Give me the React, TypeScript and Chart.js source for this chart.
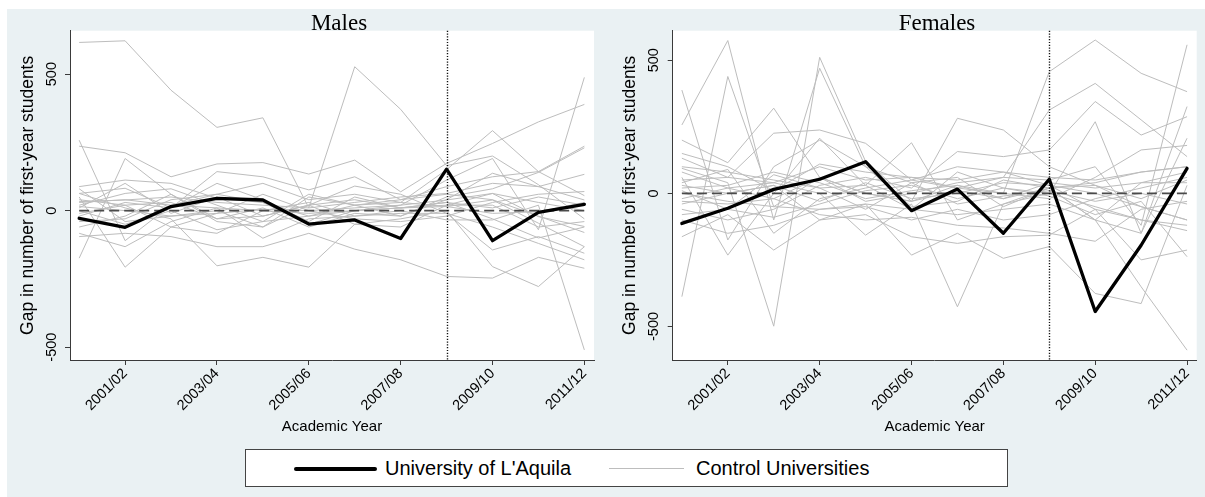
import React, { useEffect, useRef } from 'react';
import { Chart, registerables } from 'chart.js';

Chart.register(...registerables);

const SANS = "'Liberation Sans', Arial, Helvetica, sans-serif";
const SERIF = "'Liberation Serif', 'Times New Roman', serif";
Chart.defaults.font.family = SANS;

// ---------- data ----------
const yearLabels = ['2000/01', '2001/02', '2002/03', '2003/04', '2004/05', '2005/06', '2006/07', '2007/08', '2008/09', '2009/10', '2010/11', '2011/12'];
const xTickIndices = [1, 3, 5, 7, 9, 11];
const yTickValues = [-500, 0, 500];
const eventYear = '2008/09';
const zeroLevel = 0;

const maleLAquila = [-28, -61, 15, 45, 39, -49, -34, -102, 152, -110, -6, 23];
const maleCtrl01 = [616, 622, 441, 305, 340, 10, 527, 371, 165, 200, 95, -30];
const maleCtrl02 = [258, -110, 20, 60, 100, 40, 60, 30, 150, 293, 143, 236];
const maleCtrl03 = [236, 212, 124, 171, 176, 134, 185, 69, 173, 246, 325, 389];
const maleCtrl04 = [-174, 191, 60, -40, -60, 50, 20, -20, 40, 137, 88, 133];
const maleCtrl05 = [88, 112, 100, 45, 30, -20, 0, 20, 112, 191, -70, 488];
const maleCtrl06 = [63, 82, 10, 143, 124, 76, 124, 40, 88, 124, 143, 55];
const maleCtrl07 = [33, 39, 50, 30, 20, 10, 30, 50, 63, 100, 88, 39];
const maleCtrl08 = [15, 0, -20, -10, 5, 0, 10, 20, 39, 63, -22, -58];
const maleCtrl09 = [-10, 20, 30, -30, -20, 20, 40, 10, 15, 39, -46, -132];
const maleCtrl10 = [-83, -132, -40, 10, -101, -30, -20, -10, -10, -144, -95, -156];
const maleCtrl11 = [-95, -83, -95, -132, -132, -83, -141, -180, -241, -247, -171, -211];
const maleCtrl12 = [63, 10, -30, -202, -171, -207, -50, -30, 0, -205, -278, -132];
const maleCtrl13 = [50, -207, -60, -83, 0, 30, -20, 0, -34, -34, 20, -510];
const maleCtrl14 = [20, 63, 80, 20, -40, 60, 20, 30, 15, -10, -4, 30];
const maleCtrl15 = [-40, -30, 40, 60, 30, -50, 0, 10, 20, 63, 30, 0];
const maleCtrl16 = [40, 20, -60, -10, 60, 0, -30, -40, -20, 30, 60, 70];
const maleCtrl17 = [0, -50, 0, -70, -40, -20, 20, 40, 60, 40, -20, -80];
const maleCtrl18 = [-20, 30, 10, 100, 40, -40, 50, 10, 30, 10, 50, 20];
const maleCtrl19 = [80, -40, -20, 0, -60, 20, 90, 60, -10, -60, -120, -180];
const maleCtrl20 = [-60, -20, 60, -30, 10, -60, -10, -20, 50, 80, 140, 230];
const maleCtrl21 = [10, 100, -10, 50, -20, 20, -50, -60, 20, 20, -60, -40];
const maleCtrl22 = [30, 40, 20, 10, 0, -10, 0, 10, 30, -30, -100, -60];

const femaleLAquila = [-113, -56, 15, 53, 119, -65, 16, -150, 53, -444, -195, 94];
const femCtrl01 = [388, -175, 100, 200, 100, 40, 60, -50, 20, 40, 80, 100];
const femCtrl02 = [-388, 439, -50, 60, 0, -30, 30, 0, 457, 576, 451, 382];
const femCtrl03 = [257, 574, -100, 470, 100, -50, -30, 50, 20, -100, 40, 80];
const femCtrl04 = [200, 115, 320, 60, 0, -30, 282, 238, 100, 30, -50, -100];
const femCtrl05 = [132, 60, 226, 238, 188, 50, 20, 60, 313, 413, 276, 138];
const femCtrl06 = [94, 40, -499, 511, 120, -30, 10, -20, 20, 30, -20, 50];
const femCtrl07 = [60, -232, 0, 207, 30, 190, -100, -40, 0, 269, -150, 326];
const femCtrl08 = [30, 0, 30, -100, -80, -163, -188, -163, -157, -60, -250, -213];
const femCtrl09 = [0, -30, -50, -60, -40, -60, -80, -60, -40, -100, -351, -589];
const femCtrl10 = [-20, 20, 40, 0, -157, -40, -426, -40, 20, -100, -150, 207];
const femCtrl11 = [-163, -80, -213, -100, -40, -232, -150, -244, -200, -376, -414, 30];
const femCtrl12 = [-60, -100, -60, 30, 60, 20, 157, 138, 163, 345, 219, 288];
const femCtrl13 = [50, 60, 40, 100, 50, 60, 50, 80, 60, 50, 80, 100];
const femCtrl14 = [20, 30, 80, 40, -20, 10, 30, -20, 40, 20, 40, 40];
const femCtrl15 = [-40, 0, 30, -30, 40, -20, 0, 40, 30, 0, -50, -100];
const femCtrl16 = [-80, -60, -90, -40, 10, 30, -20, 20, 0, -50, -100, -140];
const femCtrl17 = [80, 20, -20, 60, -30, 0, 40, 60, 50, 100, -120, 558];
const femCtrl18 = [100, 80, 50, 20, 30, -60, 80, 20, -10, -80, -30, -238];
const femCtrl19 = [-100, -150, -120, -60, -50, -100, -60, -100, -80, -20, 20, 60];
const femCtrl20 = [10, -60, 70, 20, -60, 40, -40, -10, 10, -30, 0, -40];
const femCtrl21 = [150, 100, 10, 110, 80, 60, 20, 0, -20, 60, 163, 180];
const femCtrl22 = [-30, -40, -20, -80, -100, -90, -120, -130, -150, -180, -60, -30];
const femCtrl23 = [40, 90, -150, -20, 20, 50, 100, 80, 30, -60, -100, -120];

const maleControls = [maleCtrl01, maleCtrl02, maleCtrl03, maleCtrl04, maleCtrl05, maleCtrl06, maleCtrl07, maleCtrl08, maleCtrl09, maleCtrl10, maleCtrl11, maleCtrl12, maleCtrl13, maleCtrl14, maleCtrl15, maleCtrl16, maleCtrl17, maleCtrl18, maleCtrl19, maleCtrl20, maleCtrl21, maleCtrl22];
const femaleControls = [femCtrl01, femCtrl02, femCtrl03, femCtrl04, femCtrl05, femCtrl06, femCtrl07, femCtrl08, femCtrl09, femCtrl10, femCtrl11, femCtrl12, femCtrl13, femCtrl14, femCtrl15, femCtrl16, femCtrl17, femCtrl18, femCtrl19, femCtrl20, femCtrl21, femCtrl22, femCtrl23];

// ---------- styling ----------
const BG = '#EAF1F3';
const CONTROL_COLOR = '#BDBDBD';
const AXIS_COLOR = '#3a3a3a';

const toPoints = (vals: number[]) => vals.map((v, i) => ({ x: i, y: v }));

const decorPlugin = {
  id: 'panelDecor',
  beforeDraw(chart: any) {
    const { ctx, chartArea: a } = chart;
    ctx.save();
    ctx.fillStyle = '#ffffff';
    ctx.fillRect(a.left, a.top, a.right - a.left, a.bottom - a.top);
    ctx.restore();
  },
  afterDatasetsDraw(chart: any, _args: any, opts: any) {
    const { ctx, chartArea: a, scales } = chart;
    const x = Math.round(scales.x.getPixelForValue(yearLabels.indexOf(opts.eventYear))) + 0.5;
    ctx.save();
    ctx.strokeStyle = '#111111';
    ctx.lineWidth = 1.4;
    ctx.setLineDash([1.2, 1.6]);
    ctx.beginPath();
    ctx.moveTo(x, a.top);
    ctx.lineTo(x, a.bottom);
    ctx.stroke();
    ctx.restore();
  },
  afterDraw(chart: any, _args: any, opts: any) {
    const { ctx } = chart;
    ctx.save();
    ctx.font = `23px ${SERIF}`;
    ctx.fillStyle = '#000000';
    ctx.textAlign = 'center';
    ctx.textBaseline = 'alphabetic';
    ctx.fillText(opts.title, opts.titleX, opts.titleY);
    ctx.restore();
  },
};

type PanelSpec = {
  title: string;
  lAquila: number[];
  controls: number[][];
  yMin: number;
  yMax: number;
  yAxisWidth: number;
  yTitlePad: number;
  yTickPad: number;
  padRight: number;
  titleX: number;
};

const CANVAS_H = 440;
const PAD_TOP = 21.7;
const X_AXIS_H = 89;

function buildConfig(p: PanelSpec): any {
  const controlSets = p.controls.map((vals, k) => ({
    label: k === 0 ? 'Control Universities' : `Control ${k + 1}`,
    data: toPoints(vals),
    borderColor: CONTROL_COLOR,
    borderWidth: 1,
    pointRadius: 0,
    tension: 0,
    order: 3,
  }));
  return {
    type: 'line',
    data: {
      datasets: [
        {
          label: "University of L'Aquila",
          data: toPoints(p.lAquila),
          borderColor: '#000000',
          borderWidth: 3.3,
          borderJoinStyle: 'round',
          borderCapStyle: 'round',
          pointRadius: 0,
          tension: 0,
          order: 0,
        },
        {
          label: 'zero',
          data: [
            { x: 0, y: zeroLevel },
            { x: yearLabels.length - 1, y: zeroLevel },
          ],
          borderColor: '#4a4a4a',
          borderWidth: 1.8,
          borderDash: [10, 5],
          pointRadius: 0,
          order: 1,
        },
        ...controlSets,
      ],
    },
    options: {
      responsive: false,
      animation: false,
      events: [],
      layout: { padding: { top: PAD_TOP, right: p.padRight, bottom: 0, left: 0 } },
      plugins: {
        legend: { display: false },
        tooltip: { enabled: false },
        title: { display: false },
        panelDecor: { eventYear, title: p.title, titleX: p.titleX, titleY: 20.5 },
      },
      scales: {
        x: {
          type: 'linear',
          min: -0.2,
          max: 11.21,
          afterBuildTicks: (s: any) => {
            s.ticks = xTickIndices.map((v) => ({ value: v }));
          },
          afterFit: (s: any) => {
            s.height = X_AXIS_H;
            s.paddingLeft = 0;
            s.paddingRight = 0;
            s.paddingTop = 0;
            s.paddingBottom = 0;
          },
          ticks: {
            autoSkip: false,
            minRotation: 45,
            maxRotation: 45,
            padding: 0,
            color: '#000000',
            font: { size: 14.5, family: SANS },
            callback: (v: any) => yearLabels[v as number],
          },
          grid: { display: true, drawOnChartArea: false, drawTicks: true, tickLength: 5, color: AXIS_COLOR, lineWidth: 1 },
          border: { display: true, color: AXIS_COLOR, width: 1 },
          title: {
            display: true,
            text: 'Academic Year',
            color: '#000000',
            font: { size: 15, family: SANS },
            padding: { top: 0, bottom: 13 },
          },
        },
        y: {
          type: 'linear',
          min: p.yMin,
          max: p.yMax,
          afterBuildTicks: (s: any) => {
            s.ticks = yTickValues.map((v) => ({ value: v }));
          },
          afterFit: (s: any) => {
            s.width = p.yAxisWidth;
            s.paddingLeft = 0;
            s.paddingRight = 0;
            s.paddingTop = 0;
            s.paddingBottom = 0;
          },
          ticks: {
            minRotation: 90,
            maxRotation: 90,
            crossAlign: 'center',
            padding: p.yTickPad,
            color: '#000000',
            font: { size: 14.5, family: SANS },
            callback: (v: any) => String(v),
          },
          grid: { display: true, drawOnChartArea: false, drawTicks: true, tickLength: 5, color: AXIS_COLOR, lineWidth: 1 },
          border: { display: true, color: AXIS_COLOR, width: 1 },
          title: {
            display: true,
            text: 'Gap in number of first-year students',
            color: '#000000',
            font: { size: 17.5, family: SANS },
            padding: { top: p.yTitlePad, bottom: 0 },
          },
        },
      },
    },
    plugins: [decorPlugin],
  };
}

const malesSpec: PanelSpec = {
  title: 'Males',
  lAquila: maleLAquila,
  controls: maleControls,
  yMin: -547,
  yMax: 659,
  yAxisWidth: 63,
  yTitlePad: 10.5,
  yTickPad: -1.5,
  padRight: 10,
  titleX: 332,
};

const femalesSpec: PanelSpec = {
  title: 'Females',
  lAquila: femaleLAquila,
  controls: femaleControls,
  yMin: -626,
  yMax: 611,
  yAxisWidth: 68.7,
  yTitlePad: 15.5,
  yTickPad: -0.8,
  padRight: 8.3,
  titleX: 333,
};

function Panel({ spec, left, top, width, height }: { spec: PanelSpec; left: number; top: number; width: number; height: number }) {
  const ref = useRef<HTMLCanvasElement>(null);
  useEffect(() => {
    if (!ref.current) return;
    const chart = new Chart(ref.current, buildConfig(spec));
    return () => chart.destroy();
  }, [spec]);
  return (
    <canvas
      ref={ref}
      width={width}
      height={height}
      style={{ position: 'absolute', left, top, width, height, display: 'block' }}
    />
  );
}

function Legend() {
  const text: React.CSSProperties = {
    position: 'absolute',
    top: 0,
    height: '100%',
    display: 'flex',
    alignItems: 'center',
    fontFamily: SANS,
    fontSize: 20,
    color: '#000',
    whiteSpace: 'nowrap',
  };
  return (
    <div
      style={{
        position: 'absolute',
        left: 245,
        top: 449,
        width: 763,
        height: 38,
        boxSizing: 'border-box',
        border: '1px solid #444',
        background: '#ffffff',
      }}
    >
      <div style={{ position: 'absolute', left: 48, top: 16.5, width: 83, height: 4.5, background: '#000', borderRadius: 2.5 }} />
      <div style={{ ...text, left: 139 }}>University of L'Aquila</div>
      <div style={{ position: 'absolute', left: 363, top: 18, width: 75, height: 1, background: CONTROL_COLOR }} />
      <div style={{ ...text, left: 450 }}>Control Universities</div>
    </div>
  );
}

export default function App() {
  return (
    <div style={{ position: 'absolute', left: 0, top: 0, width: 1205, height: 497, background: '#ffffff', overflow: 'hidden' }}>
      <div style={{ position: 'absolute', left: 7, top: 9, width: 1198, height: 488, background: BG }} />
      <Panel spec={malesSpec} left={7} top={9} width={597} height={CANVAS_H} />
      <Panel spec={femalesSpec} left={604} top={9} width={601} height={CANVAS_H} />
      <Legend />
    </div>
  );
}
